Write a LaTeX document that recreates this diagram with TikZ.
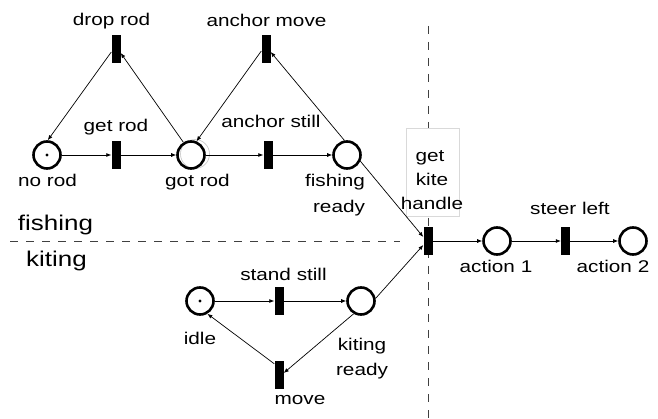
\documentclass[tikz,border=0pt]{standalone}
\usepackage{fontspec}
\setmainfont{Liberation Sans}[FakeStretch=1.22]
\usetikzlibrary{arrows.meta,calc}
\begin{document}
\begin{tikzpicture}[x=1pt,y=-1pt,
  place/.style={circle,draw,line width=2.6pt,minimum size=27pt,inner sep=0pt},
  trans/.style={rectangle,fill=black,minimum width=9pt,minimum height=28pt,inner sep=0pt},
  arc/.style={line width=0.7pt,-{Latex[length=5pt,width=4pt]}},
  lbl/.style={anchor=base,inner sep=0pt,font=\fontsize{17}{20}\selectfont},
  big/.style={anchor=base,inner sep=0pt,font=\fontsize{21.3}{25}\selectfont},
  sep/.style={dash pattern=on 8pt off 8pt,line width=1pt,black!75}]

\fill[white] (0,0) rectangle (658,419);
\useasboundingbox (0,0) rectangle (658,419);

% separators between the fishing and kiting nets
\draw[sep] (10,242) -- (400,242);
\draw[sep] (428.5,26) -- (428.5,419);
\node[draw=gray!30,fill=white,line width=0.6pt,minimum width=53pt,minimum height=88pt,inner sep=0pt] (hbox) at (432.5,172) {};

% faint duplicate ring beside "got rod"
\draw[gray!45,line width=0.6pt] (195,154) circle (14.5pt);

% places
\node[place] (norod) at (47,155) {};
\node[place] (gotrod) at (191,155) {};
\node[place] (fishready) at (347,155) {};
\node[place] (action1) at (497,241) {};
\node[place] (action2) at (633,241) {};
\node[place] (idle) at (200,301) {};
\node[place] (kitready) at (361,301) {};

% tokens
\fill (norod.center) circle (1.6pt);
\fill (idle.center) circle (1.6pt);

% transitions
\node[trans] (droprod) at (116,49) {};
\node[trans] (getrod) at (116,155) {};
\node[trans] (anchormove) at (266,49) {};
\node[trans] (anchorstill) at (268,155) {};
\node[trans] (handle) at (428,241) {};
\node[trans] (steer) at (565.5,241) {};
\node[trans] (standstill) at (279,301) {};
\node[trans] (move) at (279,375) {};

% arcs
\draw[arc] (norod) -- (getrod);
\draw[arc] (getrod) -- (gotrod);
\draw[arc] (gotrod) -- (anchorstill);
\draw[arc] (anchorstill) -- (fishready);
\draw[arc] (gotrod.121) -- ([yshift=-4pt]droprod.east);
\draw[arc] ([yshift=-3pt]droprod.west) -- (norod.87);
\draw[arc] ([yshift=-2pt]anchormove.west) -- (gotrod.68);
\draw[arc] (fishready.100) -- ([yshift=-3pt]anchormove.east);
\draw[arc] (fishready.-25) -- ([yshift=4pt]handle.west);
\draw[arc] (kitready.10) -- ([yshift=-4pt]handle.west);
\draw[arc] (handle) -- (action1);
\draw[arc] (action1) -- (steer);
\draw[arc] (steer) -- (action2);
\draw[arc] (idle) -- (standstill);
\draw[arc] (standstill) -- (kitready);
\draw[arc] (kitready.-120) -- ([yshift=2pt]move.east);
\draw[arc] ([yshift=-3pt]move.north west) -- (idle.-60);

% labels
\node[lbl] (ldroprod) at (111.5,26) {drop rod};
\node[lbl] (lanchormove) at (266.5,27) {anchor move};
\node[lbl] (lgetrod) at (116,132) {get rod};
\node[lbl] (lanchorstill) at (271,128) {anchor still};
\node[lbl] (lnorod) at (47.5,187) {no rod};
\node[lbl] (lgotrod) at (197.5,187) {got rod};
\node[lbl] (lfish1) at (335,187) {fishing};
\node[lbl] (lfish2) at (339,213) {ready};
\node[lbl] (lget) at (430,162) {get};
\node[lbl] (lkite) at (432,186) {kite};
\node[lbl] (lhandle) at (432,210) {handle};
\node[lbl] (lsteer) at (570,215) {steer left};
\node[lbl] (laction1) at (496,273) {action 1};
\node[lbl] (laction2) at (613,273) {action 2};
\node[big] (lfishing) at (55.5,231) {fishing};
\node[big] (lkiting) at (56.5,267) {kiting};
\node[lbl] (lstandstill) at (283.5,281) {stand still};
\node[lbl] (lidle) at (200,344) {idle};
\node[lbl] (lkit1) at (362,350) {kiting};
\node[lbl] (lkit2) at (362,375) {ready};
\node[lbl] (lmove) at (300,404) {move};
\end{tikzpicture}
\end{document}
